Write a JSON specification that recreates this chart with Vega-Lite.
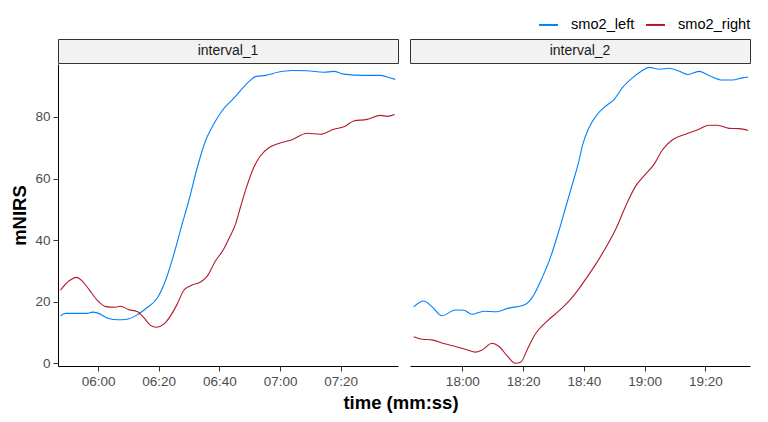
{
  "$schema": "https://vega.github.io/schema/vega-lite/v6.json",
  "background": "white",
  "padding": {"left": 10, "top": 14, "right": 20, "bottom": 5},
  "title": {
    "text": "time (mm:ss)",
    "orient": "bottom",
    "anchor": "middle",
    "offset": 6,
    "dx": 20,
    "fontSize": 18.5,
    "fontWeight": "bold",
    "color": "#000000"
  },
  "datasets": {
    "strips": [{"interval": "interval_1"}, {"interval": "interval_2"}],
    "smo2": [
      {"interval": "interval_1", "series": "smo2_left", "time": 347.6, "value": 15.4},
      {"interval": "interval_1", "series": "smo2_left", "time": 349.3, "value": 16.2},
      {"interval": "interval_1", "series": "smo2_left", "time": 353.0, "value": 16.2},
      {"interval": "interval_1", "series": "smo2_left", "time": 356.4, "value": 16.2},
      {"interval": "interval_1", "series": "smo2_left", "time": 358.1, "value": 16.6},
      {"interval": "interval_1", "series": "smo2_left", "time": 360.2, "value": 16.2},
      {"interval": "interval_1", "series": "smo2_left", "time": 363.5, "value": 14.5},
      {"interval": "interval_1", "series": "smo2_left", "time": 366.3, "value": 14.1},
      {"interval": "interval_1", "series": "smo2_left", "time": 369.6, "value": 14.3},
      {"interval": "interval_1", "series": "smo2_left", "time": 372.9, "value": 15.7},
      {"interval": "interval_1", "series": "smo2_left", "time": 376.2, "value": 18.1},
      {"interval": "interval_1", "series": "smo2_left", "time": 379.5, "value": 21.1},
      {"interval": "interval_1", "series": "smo2_left", "time": 382.2, "value": 26.7},
      {"interval": "interval_1", "series": "smo2_left", "time": 385.0, "value": 35.4},
      {"interval": "interval_1", "series": "smo2_left", "time": 387.7, "value": 45.1},
      {"interval": "interval_1", "series": "smo2_left", "time": 389.9, "value": 52.7},
      {"interval": "interval_1", "series": "smo2_left", "time": 392.7, "value": 63.5},
      {"interval": "interval_1", "series": "smo2_left", "time": 395.4, "value": 72.2},
      {"interval": "interval_1", "series": "smo2_left", "time": 398.1, "value": 77.6},
      {"interval": "interval_1", "series": "smo2_left", "time": 400.9, "value": 82.0},
      {"interval": "interval_1", "series": "smo2_left", "time": 404.7, "value": 86.0},
      {"interval": "interval_1", "series": "smo2_left", "time": 410.2, "value": 91.9},
      {"interval": "interval_1", "series": "smo2_left", "time": 411.9, "value": 93.1},
      {"interval": "interval_1", "series": "smo2_left", "time": 415.2, "value": 93.5},
      {"interval": "interval_1", "series": "smo2_left", "time": 419.6, "value": 94.6},
      {"interval": "interval_1", "series": "smo2_left", "time": 424.0, "value": 95.1},
      {"interval": "interval_1", "series": "smo2_left", "time": 428.9, "value": 95.0},
      {"interval": "interval_1", "series": "smo2_left", "time": 434.4, "value": 94.5},
      {"interval": "interval_1", "series": "smo2_left", "time": 437.7, "value": 94.8},
      {"interval": "interval_1", "series": "smo2_left", "time": 441.0, "value": 93.9},
      {"interval": "interval_1", "series": "smo2_left", "time": 447.6, "value": 93.5},
      {"interval": "interval_1", "series": "smo2_left", "time": 453.1, "value": 93.5},
      {"interval": "interval_1", "series": "smo2_left", "time": 455.3, "value": 93.0},
      {"interval": "interval_1", "series": "smo2_left", "time": 458.0, "value": 92.2},
      {"interval": "interval_1", "series": "smo2_right", "time": 347.6, "value": 23.7},
      {"interval": "interval_1", "series": "smo2_right", "time": 350.4, "value": 26.7},
      {"interval": "interval_1", "series": "smo2_right", "time": 352.9, "value": 27.9},
      {"interval": "interval_1", "series": "smo2_right", "time": 354.8, "value": 26.7},
      {"interval": "interval_1", "series": "smo2_right", "time": 357.0, "value": 24.0},
      {"interval": "interval_1", "series": "smo2_right", "time": 359.7, "value": 20.5},
      {"interval": "interval_1", "series": "smo2_right", "time": 362.5, "value": 18.4},
      {"interval": "interval_1", "series": "smo2_right", "time": 365.7, "value": 18.2},
      {"interval": "interval_1", "series": "smo2_right", "time": 367.4, "value": 18.5},
      {"interval": "interval_1", "series": "smo2_right", "time": 370.1, "value": 17.4},
      {"interval": "interval_1", "series": "smo2_right", "time": 372.9, "value": 16.8},
      {"interval": "interval_1", "series": "smo2_right", "time": 375.1, "value": 14.8},
      {"interval": "interval_1", "series": "smo2_right", "time": 377.3, "value": 12.3},
      {"interval": "interval_1", "series": "smo2_right", "time": 379.3, "value": 11.7},
      {"interval": "interval_1", "series": "smo2_right", "time": 381.7, "value": 12.7},
      {"interval": "interval_1", "series": "smo2_right", "time": 383.9, "value": 15.4},
      {"interval": "interval_1", "series": "smo2_right", "time": 386.1, "value": 19.2},
      {"interval": "interval_1", "series": "smo2_right", "time": 388.3, "value": 23.7},
      {"interval": "interval_1", "series": "smo2_right", "time": 391.0, "value": 25.4},
      {"interval": "interval_1", "series": "smo2_right", "time": 393.8, "value": 26.4},
      {"interval": "interval_1", "series": "smo2_right", "time": 396.0, "value": 28.3},
      {"interval": "interval_1", "series": "smo2_right", "time": 398.7, "value": 33.2},
      {"interval": "interval_1", "series": "smo2_right", "time": 401.4, "value": 37.0},
      {"interval": "interval_1", "series": "smo2_right", "time": 403.4, "value": 41.0},
      {"interval": "interval_1", "series": "smo2_right", "time": 405.3, "value": 45.1},
      {"interval": "interval_1", "series": "smo2_right", "time": 406.9, "value": 50.5},
      {"interval": "interval_1", "series": "smo2_right", "time": 409.1, "value": 57.6},
      {"interval": "interval_1", "series": "smo2_right", "time": 411.3, "value": 63.5},
      {"interval": "interval_1", "series": "smo2_right", "time": 413.5, "value": 67.3},
      {"interval": "interval_1", "series": "smo2_right", "time": 416.3, "value": 70.0},
      {"interval": "interval_1", "series": "smo2_right", "time": 419.6, "value": 71.4},
      {"interval": "interval_1", "series": "smo2_right", "time": 424.0, "value": 72.6},
      {"interval": "interval_1", "series": "smo2_right", "time": 428.9, "value": 74.7},
      {"interval": "interval_1", "series": "smo2_right", "time": 433.3, "value": 74.4},
      {"interval": "interval_1", "series": "smo2_right", "time": 437.7, "value": 76.0},
      {"interval": "interval_1", "series": "smo2_right", "time": 441.5, "value": 77.0},
      {"interval": "interval_1", "series": "smo2_right", "time": 444.3, "value": 78.7},
      {"interval": "interval_1", "series": "smo2_right", "time": 448.7, "value": 79.2},
      {"interval": "interval_1", "series": "smo2_right", "time": 453.1, "value": 80.5},
      {"interval": "interval_1", "series": "smo2_right", "time": 455.3, "value": 80.2},
      {"interval": "interval_1", "series": "smo2_right", "time": 457.8, "value": 80.8},
      {"interval": "interval_2", "series": "smo2_left", "time": 1064.0, "value": 18.3},
      {"interval": "interval_2", "series": "smo2_left", "time": 1067.3, "value": 20.2},
      {"interval": "interval_2", "series": "smo2_left", "time": 1070.0, "value": 18.4},
      {"interval": "interval_2", "series": "smo2_left", "time": 1073.3, "value": 15.4},
      {"interval": "interval_2", "series": "smo2_left", "time": 1077.7, "value": 17.3},
      {"interval": "interval_2", "series": "smo2_left", "time": 1080.5, "value": 17.2},
      {"interval": "interval_2", "series": "smo2_left", "time": 1083.2, "value": 15.9},
      {"interval": "interval_2", "series": "smo2_left", "time": 1087.1, "value": 16.9},
      {"interval": "interval_2", "series": "smo2_left", "time": 1090.9, "value": 16.7},
      {"interval": "interval_2", "series": "smo2_left", "time": 1095.3, "value": 17.9},
      {"interval": "interval_2", "series": "smo2_left", "time": 1100.3, "value": 18.9},
      {"interval": "interval_2", "series": "smo2_left", "time": 1103.0, "value": 21.3},
      {"interval": "interval_2", "series": "smo2_left", "time": 1106.3, "value": 27.8},
      {"interval": "interval_2", "series": "smo2_left", "time": 1109.0, "value": 34.3},
      {"interval": "interval_2", "series": "smo2_left", "time": 1111.8, "value": 43.0},
      {"interval": "interval_2", "series": "smo2_left", "time": 1114.0, "value": 50.5},
      {"interval": "interval_2", "series": "smo2_left", "time": 1116.2, "value": 58.0},
      {"interval": "interval_2", "series": "smo2_left", "time": 1118.4, "value": 65.7},
      {"interval": "interval_2", "series": "smo2_left", "time": 1119.5, "value": 70.5},
      {"interval": "interval_2", "series": "smo2_left", "time": 1121.7, "value": 76.5},
      {"interval": "interval_2", "series": "smo2_left", "time": 1124.4, "value": 80.8},
      {"interval": "interval_2", "series": "smo2_left", "time": 1127.2, "value": 83.5},
      {"interval": "interval_2", "series": "smo2_left", "time": 1130.0, "value": 85.7},
      {"interval": "interval_2", "series": "smo2_left", "time": 1132.7, "value": 89.5},
      {"interval": "interval_2", "series": "smo2_left", "time": 1136.0, "value": 92.7},
      {"interval": "interval_2", "series": "smo2_left", "time": 1139.3, "value": 95.1},
      {"interval": "interval_2", "series": "smo2_left", "time": 1141.5, "value": 96.1},
      {"interval": "interval_2", "series": "smo2_left", "time": 1144.8, "value": 95.5},
      {"interval": "interval_2", "series": "smo2_left", "time": 1148.1, "value": 95.8},
      {"interval": "interval_2", "series": "smo2_left", "time": 1151.3, "value": 94.9},
      {"interval": "interval_2", "series": "smo2_left", "time": 1154.1, "value": 93.8},
      {"interval": "interval_2", "series": "smo2_left", "time": 1157.9, "value": 94.8},
      {"interval": "interval_2", "series": "smo2_left", "time": 1161.2, "value": 93.5},
      {"interval": "interval_2", "series": "smo2_left", "time": 1165.6, "value": 92.0},
      {"interval": "interval_2", "series": "smo2_left", "time": 1168.9, "value": 92.0},
      {"interval": "interval_2", "series": "smo2_left", "time": 1172.2, "value": 92.7},
      {"interval": "interval_2", "series": "smo2_left", "time": 1174.1, "value": 93.0},
      {"interval": "interval_2", "series": "smo2_right", "time": 1064.0, "value": 8.6},
      {"interval": "interval_2", "series": "smo2_right", "time": 1066.8, "value": 7.8},
      {"interval": "interval_2", "series": "smo2_right", "time": 1070.0, "value": 7.6},
      {"interval": "interval_2", "series": "smo2_right", "time": 1073.9, "value": 6.4},
      {"interval": "interval_2", "series": "smo2_right", "time": 1078.3, "value": 5.3},
      {"interval": "interval_2", "series": "smo2_right", "time": 1081.6, "value": 4.4},
      {"interval": "interval_2", "series": "smo2_right", "time": 1084.3, "value": 3.6},
      {"interval": "interval_2", "series": "smo2_right", "time": 1086.5, "value": 4.3},
      {"interval": "interval_2", "series": "smo2_right", "time": 1089.8, "value": 6.5},
      {"interval": "interval_2", "series": "smo2_right", "time": 1092.0, "value": 5.5},
      {"interval": "interval_2", "series": "smo2_right", "time": 1094.8, "value": 2.4},
      {"interval": "interval_2", "series": "smo2_right", "time": 1097.5, "value": 0.0},
      {"interval": "interval_2", "series": "smo2_right", "time": 1099.3, "value": 0.4},
      {"interval": "interval_2", "series": "smo2_right", "time": 1101.4, "value": 4.5},
      {"interval": "interval_2", "series": "smo2_right", "time": 1104.1, "value": 9.6},
      {"interval": "interval_2", "series": "smo2_right", "time": 1107.4, "value": 13.2},
      {"interval": "interval_2", "series": "smo2_right", "time": 1111.8, "value": 17.0},
      {"interval": "interval_2", "series": "smo2_right", "time": 1115.1, "value": 20.2},
      {"interval": "interval_2", "series": "smo2_right", "time": 1117.5, "value": 23.0},
      {"interval": "interval_2", "series": "smo2_right", "time": 1120.6, "value": 27.3},
      {"interval": "interval_2", "series": "smo2_right", "time": 1123.9, "value": 32.1},
      {"interval": "interval_2", "series": "smo2_right", "time": 1127.2, "value": 37.5},
      {"interval": "interval_2", "series": "smo2_right", "time": 1130.5, "value": 43.5},
      {"interval": "interval_2", "series": "smo2_right", "time": 1133.8, "value": 51.1},
      {"interval": "interval_2", "series": "smo2_right", "time": 1137.1, "value": 57.6},
      {"interval": "interval_2", "series": "smo2_right", "time": 1140.3, "value": 61.4},
      {"interval": "interval_2", "series": "smo2_right", "time": 1143.1, "value": 64.6},
      {"interval": "interval_2", "series": "smo2_right", "time": 1145.8, "value": 69.2},
      {"interval": "interval_2", "series": "smo2_right", "time": 1149.1, "value": 72.5},
      {"interval": "interval_2", "series": "smo2_right", "time": 1153.5, "value": 74.4},
      {"interval": "interval_2", "series": "smo2_right", "time": 1157.9, "value": 76.0},
      {"interval": "interval_2", "series": "smo2_right", "time": 1161.2, "value": 77.3},
      {"interval": "interval_2", "series": "smo2_right", "time": 1164.0, "value": 77.3},
      {"interval": "interval_2", "series": "smo2_right", "time": 1167.8, "value": 76.3},
      {"interval": "interval_2", "series": "smo2_right", "time": 1171.1, "value": 76.2},
      {"interval": "interval_2", "series": "smo2_right", "time": 1174.1, "value": 75.6}
    ]
  },
  "spacing": 10,
  "hconcat": [
    {
      "spacing": 0,
      "vconcat": [
        {
          "width": 340,
          "height": 24,
          "data": {"name": "strips"},
          "transform": [{"filter": "datum.interval == 'interval_1'"}],
          "view": {"fill": "#F2F2F2", "stroke": "#333333", "strokeWidth": 1},
          "mark": {"type": "text", "fontSize": 14, "color": "#1A1A1A"},
          "encoding": {"text": {"field": "interval"}}
        },
        {
          "width": 340,
          "height": 302,
          "data": {"name": "smo2"},
          "transform": [{"filter": "datum.interval == 'interval_1'"}],
          "mark": {"type": "line", "strokeWidth": 1.1, "interpolate": "monotone", "clip": true},
          "encoding": {
            "x": {
              "field": "time",
              "type": "quantitative",
              "scale": {"domain": [346.8, 458.9], "nice": false, "zero": false},
              "axis": {
                "values": [360, 380, 400, 420, 440],
                "labelExpr": "format(floor(datum.value / 60), '02d') + ':' + format(datum.value % 60, '02d')",
                "title": null
              }
            },
            "y": {
              "field": "value",
              "type": "quantitative",
              "scale": {"domain": [-0.9, 97.2], "nice": false, "zero": false},
              "axis": {"values": [0, 20, 40, 60, 80], "title": "mNIRS", "titlePadding": 5}
            },
            "color": {
              "field": "series",
              "type": "nominal",
              "scale": {"domain": ["smo2_left", "smo2_right"], "range": ["#0080FF", "#B2182B"]},
              "legend": {
                "title": null,
                "orient": "none",
                "legendX": 480,
                "legendY": -25,
                "direction": "horizontal",
                "symbolType": "stroke",
                "symbolSize": 360,
                "symbolStrokeWidth": 2,
                "labelFontSize": 14.6,
                "labelColor": "#000000",
                "labelOffset": 12,
                "columnPadding": 7
              }
            }
          }
        }
      ]
    },
    {
      "spacing": 0,
      "vconcat": [
        {
          "width": 340,
          "height": 24,
          "data": {"name": "strips"},
          "transform": [{"filter": "datum.interval == 'interval_2'"}],
          "view": {"fill": "#F2F2F2", "stroke": "#333333", "strokeWidth": 1},
          "mark": {"type": "text", "fontSize": 14, "color": "#1A1A1A"},
          "encoding": {"text": {"field": "interval"}}
        },
        {
          "width": 340,
          "height": 302,
          "data": {"name": "smo2"},
          "transform": [{"filter": "datum.interval == 'interval_2'"}],
          "mark": {"type": "line", "strokeWidth": 1.1, "interpolate": "monotone", "clip": true},
          "encoding": {
            "x": {
              "field": "time",
              "type": "quantitative",
              "scale": {"domain": [1062.8, 1174.7], "nice": false, "zero": false},
              "axis": {
                "values": [1080, 1100, 1120, 1140, 1160],
                "labelExpr": "format(floor(datum.value / 60), '02d') + ':' + format(datum.value % 60, '02d')",
                "title": null
              }
            },
            "y": {
              "field": "value",
              "type": "quantitative",
              "scale": {"domain": [-0.9, 97.2], "nice": false, "zero": false},
              "axis": null
            },
            "color": {
              "field": "series",
              "type": "nominal",
              "scale": {"domain": ["smo2_left", "smo2_right"], "range": ["#0080FF", "#B2182B"]}
            }
          }
        }
      ]
    }
  ],
  "config": {
    "font": "Liberation Sans",
    "view": {"stroke": null},
    "axis": {
      "grid": false,
      "domainColor": "#000000",
      "domainWidth": 1,
      "tickColor": "#333333",
      "tickSize": 5,
      "labelFontSize": 13.5,
      "labelColor": "#4D4D4D",
      "labelPadding": 3,
      "titleFontSize": 18.5,
      "titleFontWeight": "bold",
      "titleColor": "#000000"
    }
  }
}
